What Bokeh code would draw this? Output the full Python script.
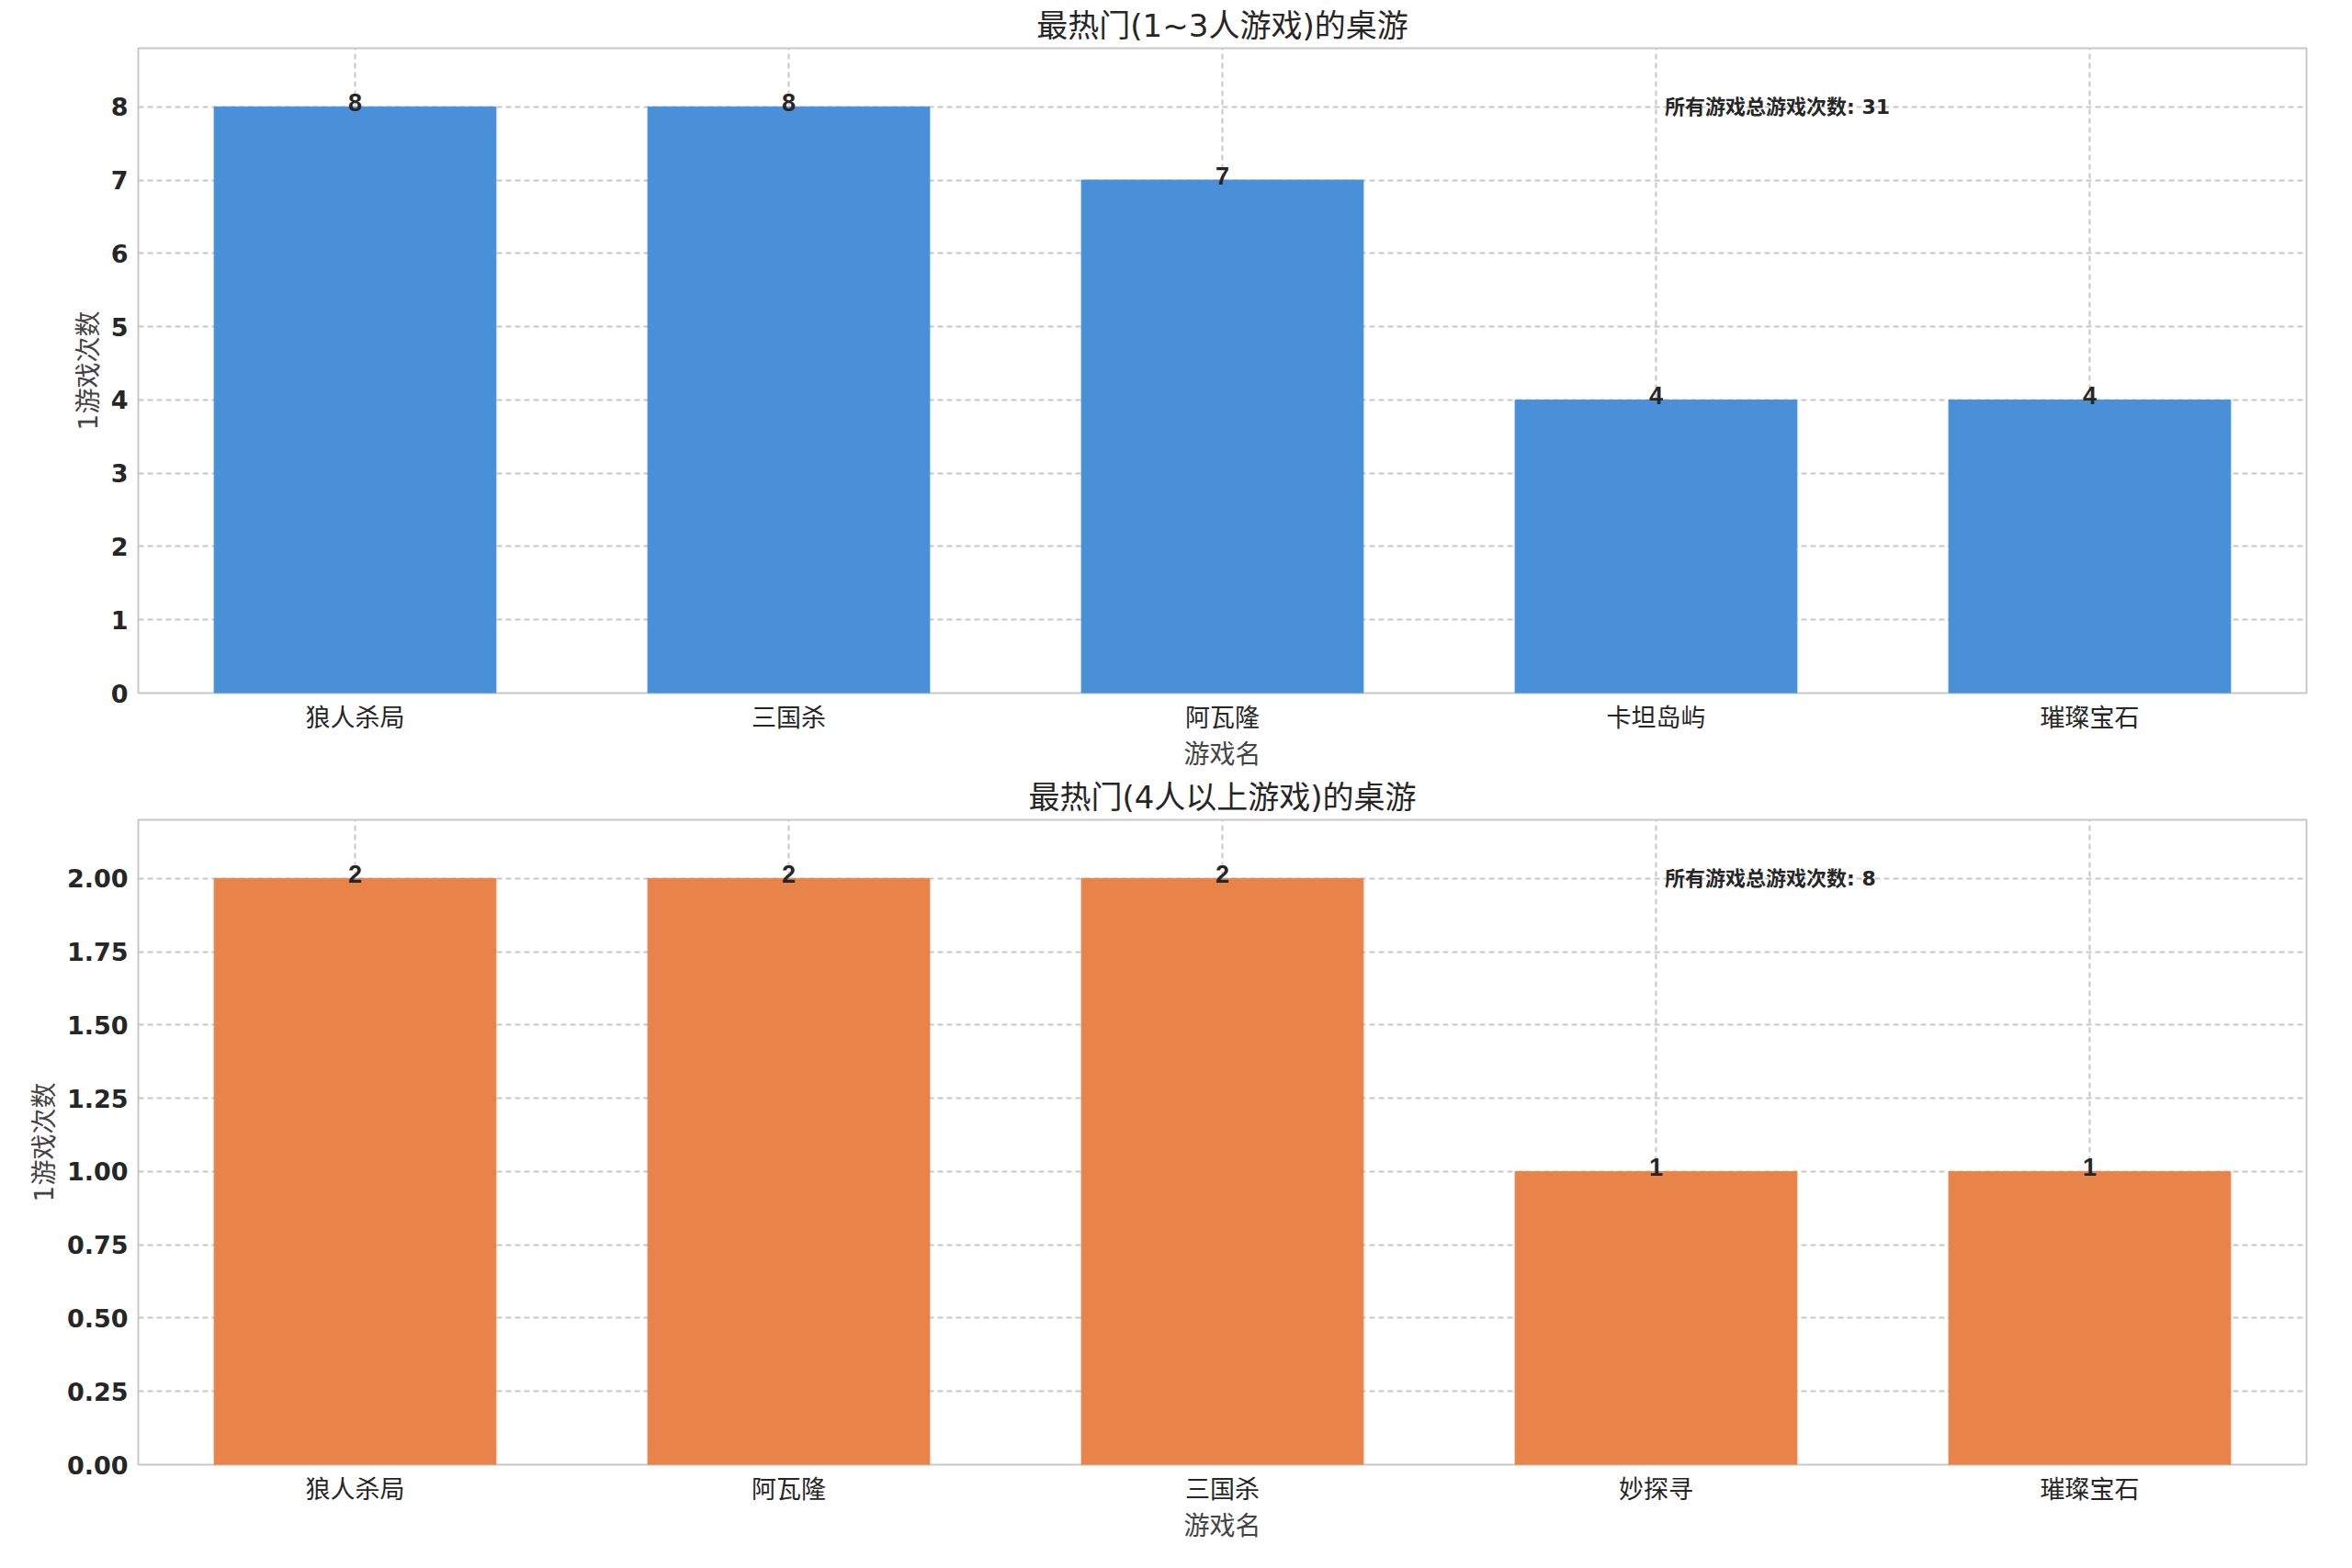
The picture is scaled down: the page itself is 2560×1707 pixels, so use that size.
from bokeh.plotting import figure
from bokeh.layouts import column
from bokeh.models import ColumnDataSource, Range1d, Label, FixedTicker, CustomJSTickFormatter
from bokeh.embed import file_html
from bokeh.resources import INLINE

top_games = ["狼人杀局", "三国杀", "阿瓦隆", "卡坦岛屿", "璀璨宝石"]
top_counts = [8, 8, 7, 4, 4]
top_title = "最热门(1~3人游戏)的桌游"
top_total = 31
bot_games = ["狼人杀局", "阿瓦隆", "三国杀", "妙探寻", "璀璨宝石"]
bot_counts = [2, 2, 2, 1, 1]
bot_title = "最热门(4人以上游戏)的桌游"
bot_total = 8
y_label = "1游戏次数"
x_label = "游戏名"
note_label = "所有游戏总游戏次数"

FONT = "DejaVu Sans, Noto Sans CJK SC"

def make(games, counts, title, total, color, ymax, ticks, fmt):
    src = ColumnDataSource(dict(x=games, y=counts, t=[str(c) for c in counts]))
    p = figure(x_range=games, width=2540, height=840, output_backend="svg",
               toolbar_location=None, title=title, min_border_left=150,
               min_border_right=30, min_border_top=10)
    p.y_range = Range1d(0, ymax)
    p.vbar(x="x", top="y", width=0.65, color=color, source=src)
    p.text(x="x", y="y", text="t", source=src, text_align="center",
           text_baseline="bottom", text_font_size="27px", text_font_style="bold",
           text_color="#262626", y_offset=5)
    p.title.text_font = FONT
    p.title.text_font_size="34px"; p.title.text_font_style="normal"
    p.title.align="center"; p.title.text_color="#262626"
    p.xaxis.axis_label = x_label; p.yaxis.axis_label = y_label
    for ax in (p.xaxis, p.yaxis):
        ax.axis_label_text_font = FONT
        ax.axis_label_text_font_size = "28px"
        ax.axis_label_text_font_style = "normal"
        ax.major_label_text_font = FONT
        ax.axis_line_color = None
        ax.major_tick_line_color = None
        ax.minor_tick_line_color = None
        ax.major_label_text_color = "#262626"
    p.xaxis.major_label_text_font_size = "27px"
    p.yaxis.major_label_text_font_size = "27px"
    p.yaxis.major_label_text_font_style = "bold"
    p.yaxis.ticker = FixedTicker(ticks=ticks)
    p.yaxis.formatter = CustomJSTickFormatter(code=f"return tick.toFixed({fmt});")
    p.xgrid.grid_line_dash = "6 4"; p.ygrid.grid_line_dash = "6 4"
    p.xgrid.grid_line_color = "#c8c8c8"; p.ygrid.grid_line_color = "#c8c8c8"
    p.xgrid.grid_line_width = 2; p.ygrid.grid_line_width = 2
    p.outline_line_color = "#c8c8c8"; p.outline_line_width = 2
    p.add_layout(Label(x=3.52, y=max(counts), text=f"{note_label}: {total}",
                       text_font=FONT, text_font_size="22px", text_font_style="bold",
                       text_baseline="middle", text_color="#262626"))
    return p

p1 = make(top_games, top_counts, top_title, top_total, "#4a90d9", 8.8,
          list(range(0, 9)), 0)
p2 = make(bot_games, bot_counts, bot_title, bot_total, "#e8844a", 2.2,
          [i * 0.25 for i in range(9)], 2)
open("out.html", "w").write(file_html(column(p1, p2), INLINE))
